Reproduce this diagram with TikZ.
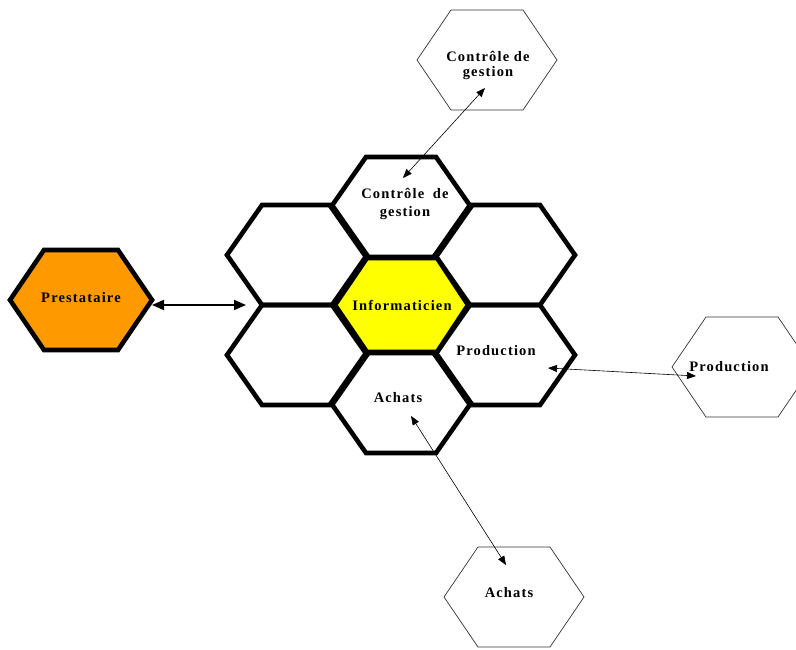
\documentclass[tikz,border=0pt]{standalone}
\usepackage{fontspec}
\usepackage{xcolor}
\usetikzlibrary{arrows.meta}
\newfontfamily\hexfont[LetterSpace=8]{Liberation Serif}
\definecolor{prestaorange}{HTML}{FF9900}
\definecolor{infoyellow}{HTML}{FFFF00}

\begin{document}
\begin{tikzpicture}[x=1pt, y=-1pt,
    comb/.style={line width=4.6pt, line join=miter},
    outer/.style={line width=0.7pt, draw=black!80},
    lbl/.style={font=\hexfont\bfseries\fontsize{14.5}{15}\selectfont, align=center, inner sep=0pt},
    link/.style={line width=0.6pt, {Triangle[length=9pt,width=7pt]}-{Triangle[length=9pt,width=7pt]}},
    biglink/.style={line width=1.8pt, {Triangle[length=12pt,width=10pt]}-{Triangle[length=12pt,width=10pt]}}]
        \useasboundingbox (0,0) rectangle (796,650);

        % honeycomb around the centre
        \foreach \cx/\cy in {297/255, 505/255, 297/355, 505/355, 401/207, 401/403} {
          \draw[comb] (\cx-70,\cy) -- (\cx-35,\cy-50) -- (\cx+35,\cy-50)
            -- (\cx+70,\cy) -- (\cx+35,\cy+50) -- (\cx-35,\cy+50) -- cycle;
        }
        \filldraw[comb, fill=infoyellow] (335,305) -- (367,258) -- (437,258)
          -- (468,305) -- (437,352) -- (367,352) -- cycle;

        % prestataire
        \filldraw[comb, fill=prestaorange] (10,300) -- (44,250) -- (118,250)
          -- (152,300) -- (118,350) -- (44,350) -- cycle;

        % outer hexagons
        \foreach \cx/\cy in {487/60, 742/367, 514/597} {
          \draw[outer] (\cx-70,\cy) -- (\cx-36,\cy-50) -- (\cx+36,\cy-50)
            -- (\cx+70,\cy) -- (\cx+36,\cy+50) -- (\cx-36,\cy+50) -- cycle;
        }

        % labels
        \node[lbl] (info) at (402,305) {Informaticien};
        \node[lbl] (presta) at (81,298) {Prestataire};
        \node[lbl] (cgIn) at (405,204) {Contr\^ole\hspace{4pt} de\\[3pt]gestion};
        \node[lbl] (prodIn) at (496,351) {Production};
        \node[lbl] (achIn) at (398,398) {Achats};
        \node[lbl] (cgOut) at (488,65) {Contr\^ole de\\gestion};
        \node[lbl] (prodOut) at (729,367) {Production};
        \node[lbl] (achOut) at (509,593) {Achats};

        % link ends
        \coordinate (prestaR) at (152,305);
        \coordinate (combL) at (246,305);
        \coordinate (cgA) at (403,178);
        \coordinate (cgB) at (485,88);
        \coordinate (prodA) at (548,368);
        \coordinate (prodB) at (696,376);
        \coordinate (achA) at (411,416);
        \coordinate (achB) at (506,565);

        \draw[biglink] (prestaR) -- (combL);
        \draw[link] (cgA) -- (cgB);
        \draw[link] (prodA) -- (prodB);
        \draw[link] (achA) -- (achB);
      \end{tikzpicture}
\end{document}
